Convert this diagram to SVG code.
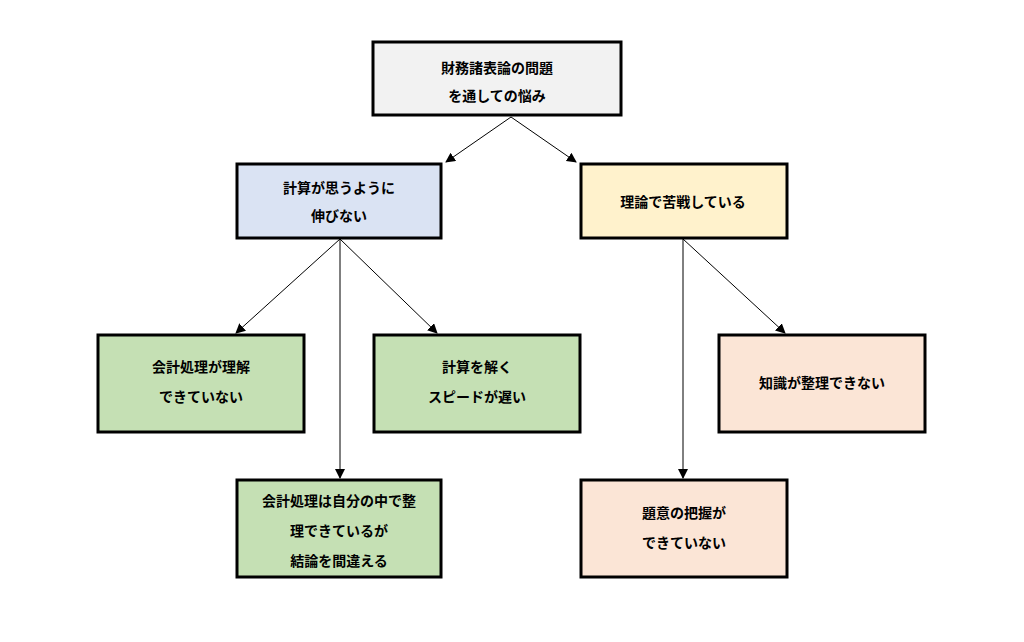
<svg xmlns="http://www.w3.org/2000/svg" width="1024" height="642" viewBox="0 0 1024 642">
<defs>
<style>
.b{stroke:#000;stroke-width:3}
.t{font-family:"Noto Sans CJK JP",sans-serif;font-size:14px;font-weight:bold;text-anchor:middle;fill:#000}
.c{stroke:#000;stroke-width:1;fill:none;marker-end:url(#a)}
</style>
<marker id="a" markerWidth="10" markerHeight="10" refX="9" refY="5" orient="auto" markerUnits="userSpaceOnUse"><path d="M0,0 L10,5 L0,10 z" fill="#000"/></marker>
</defs>
<rect width="1024" height="642" fill="#fff"/>
<g id="connectors">
<line class="c" x1="511" y1="117" x2="446" y2="162"/>
<line class="c" x1="511" y1="117" x2="576" y2="162"/>
<line class="c" x1="340" y1="239" x2="236" y2="333"/>
<line class="c" x1="340" y1="239" x2="340" y2="478"/>
<line class="c" x1="340" y1="239" x2="437" y2="333"/>
<line class="c" x1="683" y1="239" x2="683" y2="478"/>
<line class="c" x1="683" y1="239" x2="785" y2="333"/>
</g>
<g id="n0"><rect class="b" x="373" y="42" width="248" height="73" fill="#f2f2f2"/><text class="t" x="497" y="73">財務諸表論の問題</text><text class="t" x="497" y="101">を通しての悩み</text></g>
<g id="n1"><rect class="b" x="237" y="164" width="204" height="74" fill="#dae3f3"/><text class="t" x="339" y="193">計算が思うように</text><text class="t" x="339" y="221">伸びない</text></g>
<g id="n2"><rect class="b" x="581" y="164" width="206" height="74" fill="#fff2cc"/><text class="t" x="683" y="207">理論で苦戦している</text></g>
<g id="n3"><rect class="b" x="98" y="335" width="206" height="97" fill="#c5e0b4"/><text class="t" x="201" y="372">会計処理が理解</text><text class="t" x="201" y="402">できていない</text></g>
<g id="n4"><rect class="b" x="374" y="335" width="206" height="97" fill="#c5e0b4"/><text class="t" x="477" y="372">計算を解く</text><text class="t" x="477" y="402">スピードが遅い</text></g>
<g id="n5"><rect class="b" x="237" y="480" width="204" height="97" fill="#c5e0b4"/><text class="t" x="339" y="506">会計処理は自分の中で整</text><text class="t" x="339" y="536">理できているが</text><text class="t" x="339" y="566">結論を間違える</text></g>
<g id="n6"><rect class="b" x="719" y="335" width="206" height="97" fill="#fbe5d6"/><text class="t" x="822" y="388">知識が整理できない</text></g>
<g id="n7"><rect class="b" x="581" y="480" width="206" height="97" fill="#fbe5d6"/><text class="t" x="684" y="518">題意の把握が</text><text class="t" x="684" y="548">できていない</text></g>
</svg>
